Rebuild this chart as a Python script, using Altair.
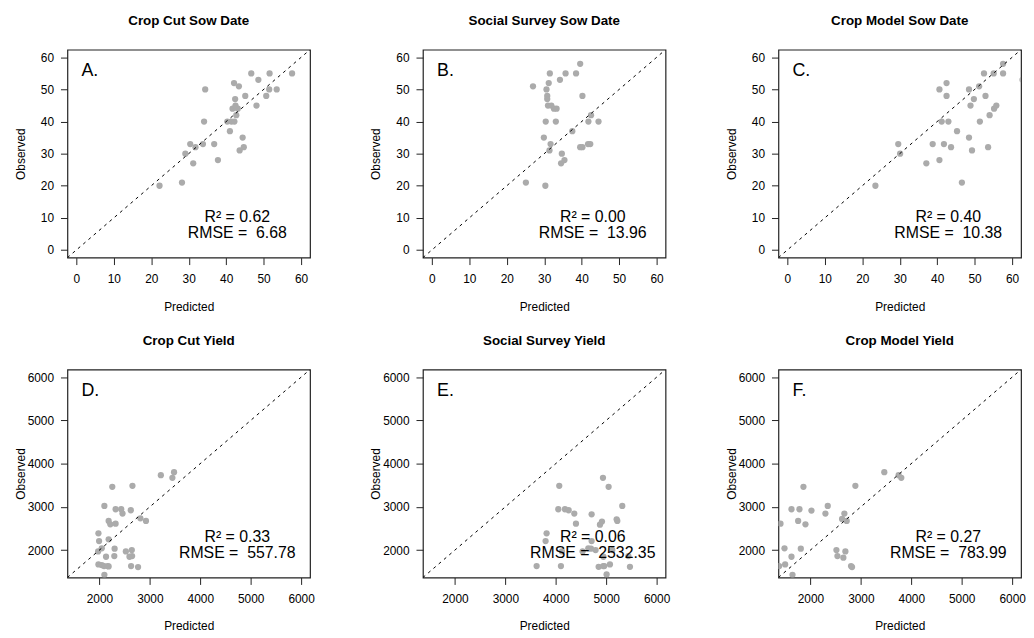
import altair as alt
import pandas as pd

FONT = "Liberation Sans"

# ---------------- data ----------------
titles = ["Crop Cut Sow Date", "Social Survey Sow Date", "Crop Model Sow Date",
          "Crop Cut Yield", "Social Survey Yield", "Crop Model Yield"]
letters = ["A.", "B.", "C.", "D.", "E.", "F."]
r2_vals = ["0.62", "0.00", "0.40", "0.33", "0.06", "0.27"]
rmse_vals = ["6.68", "13.96", "10.38", "557.78", "2532.35", "783.99"]

sow_ticks = [0, 10, 20, 30, 40, 50, 60]
yld_ticks = [2000, 3000, 4000, 5000, 6000]
sow_domain = [-2.4, 62.4]
yld_domain = [1365, 6177]

a_pred = [22.2, 28.2, 29.1, 30.4, 31.2, 31.8, 33.8, 34.1, 34.4, 36.8, 37.8, 40.3, 41.0, 41.4, 42.2, 41.7, 42.1,
          42.4, 42.5, 42.7, 43.1, 43.4, 43.6, 44.4, 44.7, 45.1, 46.7, 48.1, 48.6, 50.7, 51.5, 51.6, 53.5, 57.6]
a_obs = [20, 21, 30, 33, 27, 32, 33, 40, 50, 33, 28, 40, 37, 40, 40, 44, 52,
         47, 45, 42, 44, 51, 31, 35, 32, 48, 55, 45, 53, 48, 50, 55, 50, 55]

b_pred = [25.1, 27.0, 29.9, 30.3, 30.4, 30.6, 30.8, 30.8, 31.0, 31.2, 31.4, 31.5, 31.7, 31.9, 32.6, 33.3, 33.1,
          34.2, 34.5, 34.7, 35.4, 35.7, 37.5, 38.5, 39.6, 39.6, 40.2, 40.2, 41.7, 41.8, 42.3, 42.5, 44.5]
b_obs = [21, 51, 35, 20, 40, 50, 48, 47, 45, 52, 31, 55, 33, 45, 44, 44, 40,
         53, 27, 30, 28, 55, 37, 55, 58, 32, 32, 48, 33, 40, 33, 42, 40]

c_pred = [23.5, 29.6, 30.1, 37.1, 38.8, 40.6, 40.6, 41.2, 41.8, 42.5, 42.5, 43.0, 43.7, 45.3, 46.6, 48.5,
          48.5, 48.9, 49.3, 49.8, 51.4, 51.2, 52.5, 52.9, 53.6, 54.0, 55.1, 55.2, 55.8, 57.6, 57.6, 62.8]
c_obs = [20, 33, 30, 27, 33, 28, 50, 40, 33, 52, 48, 40, 32, 37, 21, 35,
         50, 45, 31, 47, 40, 51, 55, 48, 32, 42, 55, 44, 45, 55, 58, 53]

d_pred = [1980, 1993, 1974, 1980, 2046, 2046, 2098, 2092, 2098, 2131, 2164, 2183, 2183, 2183, 2216, 2255, 2295,
          2301, 2321, 2321, 2432, 2458, 2524, 2596, 2622, 2628, 2642, 2648, 2655, 2766, 2812, 2923, 3218, 3447, 3480]
d_obs = [2387, 2209, 1969, 1667, 1652, 2039, 3021, 1629, 1427, 1845, 1629, 1621, 2248, 2673, 2596, 3462, 1861,
         2031, 2944, 2611, 2944, 2843, 1969, 1845, 2921, 1629, 2000, 1861, 3485, 1605, 2735, 2673, 3733, 3671, 3803]

e_pred = [3620, 3798, 3818, 4050, 4069, 4102, 4122, 4182, 4255, 4367, 4400, 4532, 4645, 4698, 4711, 4711, 4850,
          4876, 4916, 4936, 4942, 4962, 5008, 5048, 5074, 5121, 5207, 5220, 5319, 5471, 4790, 4944, 5440]
e_obs = [1629, 2209, 2387, 2944, 3485, 1629, 1969, 2944, 2921, 2843, 2611, 1969, 2039, 2031, 2828, 2209, 1613,
         2588, 2658, 3671, 1629, 1629, 1435, 3462, 1667, 2000, 2712, 2673, 3021, 1613, 2000, 1845, 1861]

f_pred = [1380, 1406, 1485, 1498, 1624, 1624, 1644, 1756, 1782, 1809, 1861, 1901, 2020, 2297,
          2343, 2515, 2535, 2627, 2653, 2673, 2693, 2719, 2805, 2825, 2891, 3465, 3749, 3802]
f_obs = [1629, 2611, 2039, 1667, 2944, 1845, 1427, 2673, 2944, 2031, 3462, 2596, 2913, 2843,
         3021, 2000, 1861, 2720, 1822, 2843, 1969, 2673, 1629, 1605, 3485, 3803, 3733, 3671]

preds = [a_pred, b_pred, c_pred, d_pred, e_pred, f_pred]
obss = [a_obs, b_obs, c_obs, d_obs, e_obs, f_obs]

W, H = 245, 210


def panel(i):
    dom = sow_domain if i < 3 else yld_domain
    ticks = sow_ticks if i < 3 else yld_ticks
    span = dom[1] - dom[0]
    xs = alt.Scale(domain=dom, nice=False, zero=False)
    ys = alt.Scale(domain=dom, nice=False, zero=False)
    X = lambda: alt.X("Predicted:Q", scale=xs, axis=alt.Axis(values=ticks, title="Predicted", format="d"))
    Y = lambda: alt.Y("Observed:Q", scale=ys, axis=alt.Axis(values=ticks, title="Observed", format="d"))

    df = pd.DataFrame({"Predicted": preds[i], "Observed": obss[i]})
    pts = alt.Chart(df).mark_circle(size=40, color="#ABABAB", opacity=1, clip=True).encode(x=X(), y=Y())

    line_df = pd.DataFrame({"Predicted": dom, "Observed": dom})
    ref = alt.Chart(line_df).mark_line(color="black", strokeDash=[3, 4], strokeWidth=1, clip=True).encode(x=X(), y=Y())

    let_df = pd.DataFrame({"Predicted": [dom[0] + 0.058 * span], "Observed": [dom[1] - 0.127 * span],
                           "label": [letters[i]]})
    let = alt.Chart(let_df).mark_text(align="left", baseline="alphabetic", fontSize=18, font=FONT,
                                      color="black").encode(x=X(), y=Y(), text="label:N")

    st_df = pd.DataFrame({"Predicted": [dom[0] + 0.70 * span],
                          "Observed": [dom[0] + 0.171 * span],
                          "label": ["R\u00b2 = " + r2_vals[i] + "\nRMSE = \u00a0" + rmse_vals[i]]})
    st = alt.Chart(st_df).mark_text(align="center", baseline="alphabetic", fontSize=16, font=FONT,
                                    lineBreak="\n", lineHeight=16,
                                    color="black").encode(x=X(), y=Y(), text="label:N")

    return alt.layer(pts, ref, let, st).properties(width=W, height=H, title=titles[i])


chart = alt.concat(*[panel(i) for i in range(6)], columns=3,
                   spacing={"row": 113, "column": 114}, bounds="flush").properties(
    padding={"left": 5, "top": 2, "right": 0, "bottom": 0}
).configure_view(stroke="#222", strokeWidth=1.2).configure_axis(
    domain=False, grid=False, ticks=True, tickSize=7, tickColor="#222", tickWidth=1,
    labelFont=FONT, labelFontSize=12, labelColor="black", labelFlush=False, labelOverlap=False,
    titleFont=FONT, titleFontSize=12, titleFontWeight="normal", titleColor="black"
).configure_axisX(labelPadding=9, titleY=53, titleBaseline="alphabetic").configure_axisY(
    labelPadding=7, titleX=-43.4, titleBaseline="alphabetic"
).configure_title(font=FONT, fontSize=13.5, fontWeight="bold", color="black", offset=22.7,
                  baseline="alphabetic", frame="group", anchor="middle")

chart.save("out.html", embed_options={"renderer": "svg", "actions": False})
